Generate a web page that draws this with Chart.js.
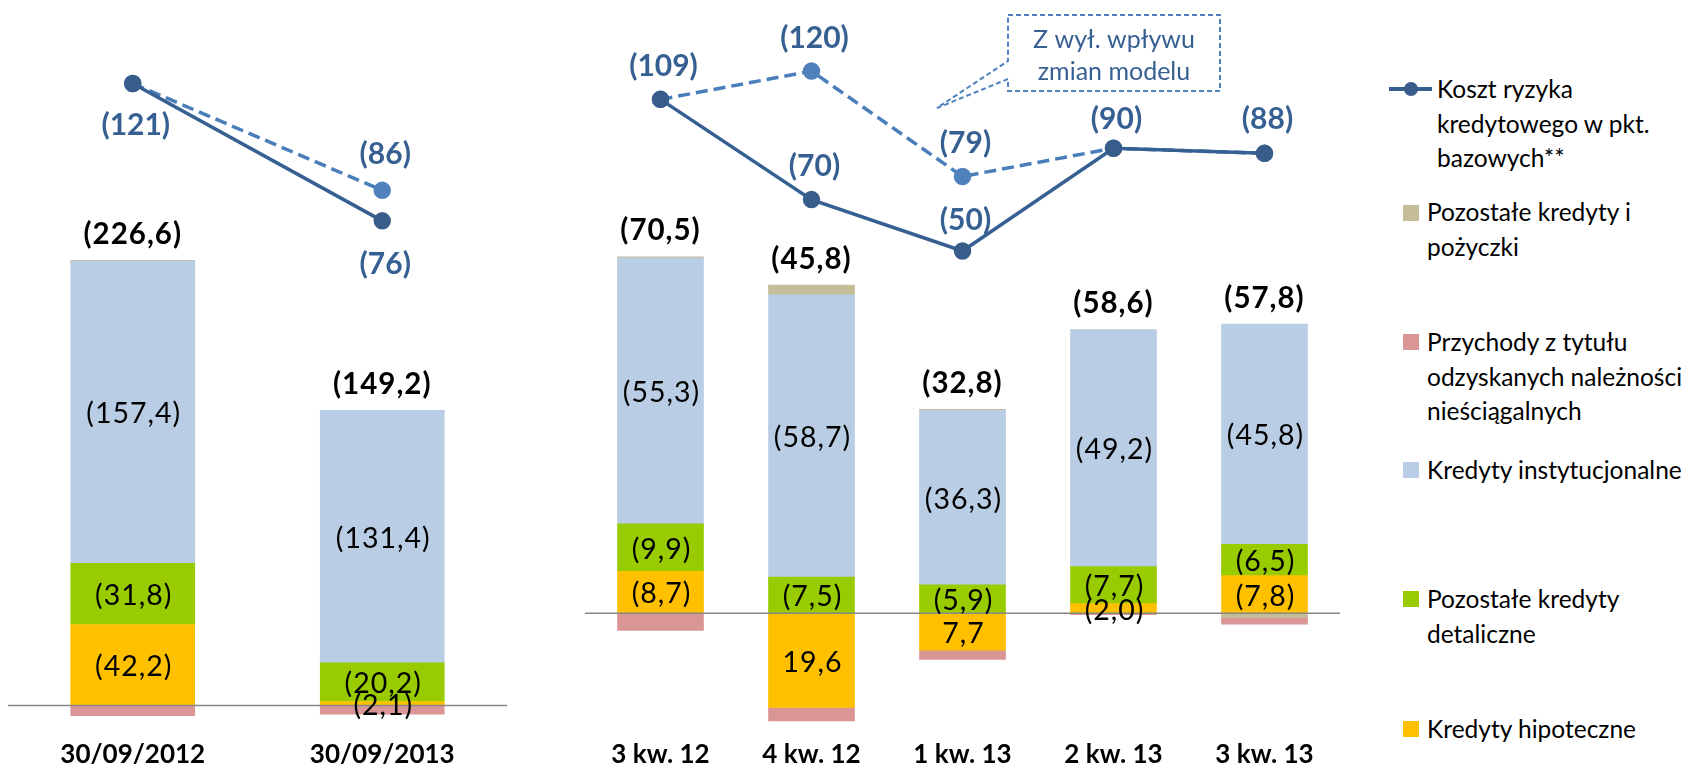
<!DOCTYPE html>
<html>
<head>
<meta charset="utf-8">
<script src="https://cdn.jsdelivr.net/npm/chart.js@4"></script>
<style>
  body { margin: 0; background: #fff; width: 1706px; height: 765px; overflow: hidden; position: relative; font-family: Lato, sans-serif; }
  .box { position: absolute; top: 0; height: 774px; }
  .leg { position: absolute; font-size: 24.5px; line-height: 34.5px; color: #000; white-space: nowrap; }
  .sq { position: absolute; width: 16px; height: 16px; }
</style>
</head>
<body>

<div class="box" style="left:8px;width:499px"><canvas id="left"></canvas></div>
<div class="box" style="left:585px;width:755px"><canvas id="right"></canvas></div>

<!-- legend -->
<div style="position:absolute;left:1389px;top:87px;width:43px;height:4px;background:#376092"></div>
<div style="position:absolute;left:1404px;top:82px;width:14px;height:14px;border-radius:50%;background:#385D8A"></div>
<div class="leg" style="left:1437px;top:72px">Koszt ryzyka<br>kredytowego w pkt.<br>bazowych**</div>

<div class="sq" style="left:1403px;top:205px;background:#C4BD97"></div>
<div class="leg" style="left:1427px;top:195px">Pozostałe kredyty i<br>pożyczki</div>

<div class="sq" style="left:1403px;top:334px;background:#D99694"></div>
<div class="leg" style="left:1427px;top:325px">Przychody z tytułu<br>odzyskanych należności<br>nieściągalnych</div>

<div class="sq" style="left:1403px;top:462px;background:#B9CDE5"></div>
<div class="leg" style="left:1427px;top:453px">Kredyty instytucjonalne</div>

<div class="sq" style="left:1403px;top:591px;background:#99CC00"></div>
<div class="leg" style="left:1427px;top:582px">Pozostałe kredyty<br>detaliczne</div>

<div class="sq" style="left:1403px;top:721px;background:#FFC000"></div>
<div class="leg" style="left:1427px;top:712px">Kredyty hipoteczne</div>

<script>
// roczne (30/09)
const leftLabels = ['30/09/2012', '30/09/2013'];
const leftHipoteczne = [42.2, 2.1];
const leftDetaliczne = [31.8, 20.2];
const leftInstytucjonalne = [157.4, 131.4];
const leftPozostale = [0.4, 0];
const leftPrzychody = [-5.2, -4.5];
const leftTotals = [226.6, 149.2];
const leftKoszt = [121, 76];
const leftKosztBezModelu = [121, 86];

// kwartalne
const rightLabels = ['3 kw. 12', '4 kw. 12', '1 kw. 13', '2 kw. 13', '3 kw. 13'];
const rightHipoteczne = [8.7, -19.6, -7.7, 2.0, 7.8];
const rightDetaliczne = [9.9, 7.5, 5.9, 7.7, 6.5];
const rightInstytucjonalne = [55.3, 58.7, 36.3, 49.2, 45.8];
const rightPozostale = [0.2, 2.0, 0.2, 0, -0.9];
const rightPrzychody = [-3.6, -2.8, -1.9, -0.3, -1.4];
const rightTotals = [70.5, 45.8, 32.8, 58.6, 57.8];
const rightKoszt = [109, 70, 50, 90, 88];
const rightKosztBezModelu = [109, 120, 79, 90, 88];

function fmt(v){
    let s = Math.abs(v).toFixed(1).replace('.', ',');
    return v > 0 ? '(' + s + ')' : s;
}

const barLabels = {
    id: 'barLabels',
    afterDatasetsDraw(chart, args, opts){
        const ctx = chart.ctx;
        const y = chart.scales.y;
        const area = chart.chartArea;
        ctx.save();
        // zero line
        const y0 = y.getPixelForValue(0);
        ctx.strokeStyle = '#878787';
        ctx.lineWidth = 1.5;
        ctx.beginPath();
        ctx.moveTo(area.left, y0);
        ctx.lineTo(area.right, y0);
        ctx.stroke();

        ctx.textAlign = 'center';
        ctx.textBaseline = 'middle';
        ctx.fillStyle = '#000';
        ctx.font = '28.5px Lato';
        ctx.letterSpacing = '1px';
        chart.data.datasets.forEach((ds, i) => {
            if(!ds.showLabels) return;
            chart.getDatasetMeta(i).data.forEach((bar, j) => {
                const v = ds.data[j];
                if(!v) return;
                ctx.fillText(fmt(v), bar.x + 1, (bar.y + bar.base) / 2 + 2);
            });
        });

        // totals above the bars
        ctx.font = 'bold 29.5px Lato';
        const xs = chart.scales.x;
        opts.totals.forEach((t, j) => {
            let top = 0;
            chart.data.datasets.forEach(ds => {
                if(ds.type !== 'line' && ds.data[j] > 0) top += ds.data[j];
            });
            ctx.fillText(fmt(t), xs.getPixelForValue(j), y.getPixelForValue(top) - 26);
        });
        ctx.letterSpacing = '0px';

        // line values
        ctx.font = 'bold 30px Lato';
        ctx.fillStyle = '#376092';
        chart.data.datasets.forEach((ds, i) => {
            if(!ds.labelOffsets) return;
            chart.getDatasetMeta(i).data.forEach((pt, j) => {
                const off = ds.labelOffsets[j];
                if(off === null) return;
                ctx.fillText('(' + ds.data[j] + ')', pt.x + 3, pt.y + off);
            });
        });
        ctx.restore();
    }
};

const callout = {
    id: 'callout',
    afterDraw(chart){
        const ctx = chart.ctx;
        ctx.save();
        ctx.strokeStyle = '#4F81BD';
        ctx.lineWidth = 2;
        ctx.setLineDash([5, 3]);
        ctx.beginPath();
        ctx.moveTo(423, 15);
        ctx.lineTo(635, 15);
        ctx.lineTo(635, 91);
        ctx.lineTo(423, 91);
        ctx.lineTo(423, 79);
        ctx.lineTo(352, 108);
        ctx.lineTo(423, 61);
        ctx.closePath();
        ctx.stroke();
        ctx.setLineDash([]);
        ctx.fillStyle = '#376092';
        ctx.font = '25px Lato';
        ctx.textAlign = 'center';
        ctx.textBaseline = 'middle';
        ctx.fillText('Z wył. wpływu', 529, 40);
        ctx.fillText('zmian modelu', 529, 72);
        ctx.restore();
    }
};

function makeChart(id, labels, hip, det, inst, poz, prz, koszt, kosztBez, totals, ranges, barW, offs, plugins){
    const bar = (label, data, color, showLabels) => ({
        type: 'bar', label: label, data: data, backgroundColor: color,
        barThickness: barW, stack: 's', order: 2, showLabels: showLabels
    });
    new Chart(document.getElementById(id), {
        data: {
            labels: labels,
            datasets: [
                bar('Kredyty hipoteczne', hip, '#FFC000', true),
                bar('Pozostałe kredyty detaliczne', det, '#99CC00', true),
                bar('Kredyty instytucjonalne', inst, '#B9CDE5', true),
                bar('Pozostałe kredyty i pożyczki', poz, '#C4BD97', false),
                bar('Przychody z tytułu odzyskanych należności nieściągalnych', prz, '#D99694', false),
                {
                    type: 'line', label: 'Koszt ryzyka kredytowego w pkt. bazowych**', data: koszt,
                    yAxisID: 'y2', order: 0, borderColor: '#376092', borderWidth: 3.5,
                    pointRadius: 7, pointBackgroundColor: '#385D8A', pointBorderColor: '#385D8A',
                    labelOffsets: offs.solid
                },
                {
                    type: 'line', label: 'Z wył. wpływu zmian modelu', data: kosztBez,
                    yAxisID: 'y2', order: 1, borderColor: '#4A7EBB', borderWidth: 3.5, borderDash: [12, 6],
                    pointRadius: 7, pointBackgroundColor: '#4F81BD', pointBorderColor: '#4F81BD',
                    labelOffsets: offs.dashed
                }
            ]
        },
        options: {
            responsive: true,
            maintainAspectRatio: false,
            animation: false,
            events: [],
            layout: { padding: 0, autoPadding: false },
            plugins: {
                legend: { display: false },
                tooltip: { enabled: false },
                barLabels: { totals: totals }
            },
            scales: {
                x: {
                    stacked: true,
                    grid: { display: false, drawTicks: false },
                    border: { display: false },
                    ticks: { padding: 6, color: '#000', font: { family: 'Lato', size: 26, weight: 'bold', lineHeight: 1 } }
                },
                y: { stacked: true, display: false, min: ranges.barMin, max: ranges.barMax },
                y2: { display: false, min: ranges.lineMin, max: ranges.lineMax }
            }
        },
        plugins: plugins
    });
}

makeChart('left', leftLabels, leftHipoteczne, leftDetaliczne, leftInstytucjonalne, leftPozostale, leftPrzychody,
    leftKoszt, leftKosztBezModelu, leftTotals,
    { barMin: -15.84, barMax: 367.3, lineMin: -92.76, lineMax: 148.36 }, 124,
    { solid: [42, 43], dashed: [null, -36] }, [barLabels]);

makeChart('right', rightLabels, rightHipoteczne, rightDetaliczne, rightInstytucjonalne, rightPozostale, rightPrzychody,
    rightKoszt, rightKosztBezModelu, rightTotals,
    { barMin: -25.53, barMax: 127.5, lineMin: -138.67, lineMax: 147.66 }, 86,
    { solid: [-33, -33, -31, -29, -34], dashed: [null, -33, -33, null, null] }, [barLabels, callout]);
</script>
</body>
</html>
